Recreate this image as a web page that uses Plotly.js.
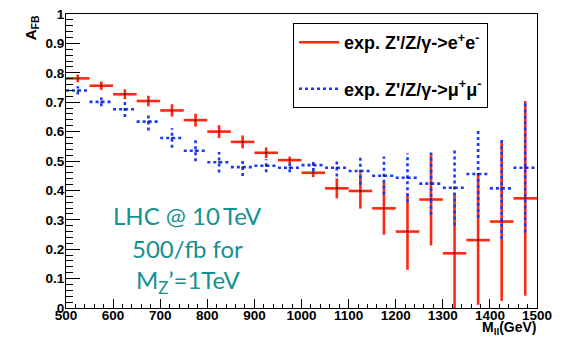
<!DOCTYPE html>
<html>
<head>
<meta charset="utf-8">
<script src="https://cdn.plot.ly/plotly-3.0.1.min.js"></script>
<style>html,body{margin:0;padding:0;background:#fff;}</style>
</head>
<body>
<div id="chart" style="width:565px;height:340px;"></div>
<script>
// Bin centres of the dilepton mass (GeV); each bin spans +/- binHalfWidth
const binCenters = [525, 575, 625, 675, 725, 775, 825, 875, 925, 975,
                    1025, 1075, 1125, 1175, 1225, 1275, 1325, 1375, 1425, 1475];
const binHalfWidth = 25;

// exp. Z'/Z/gamma -> e+e-
const eeAfb = [0.781, 0.756, 0.727, 0.704, 0.672, 0.639, 0.600, 0.565, 0.528, 0.503,
               0.460, 0.407, 0.398, 0.339, 0.260, 0.369, 0.186, 0.231, 0.294, 0.373];
const eeErr = [0.013, 0.014, 0.017, 0.018, 0.021, 0.022, 0.022, 0.022, 0.018, 0.012,
               0.015, 0.034, 0.060, 0.090, 0.130, 0.156, 0.205, 0.220, 0.270, 0.331];

// exp. Z'/Z/gamma -> mu+mu-
const mumuAfb = [0.740, 0.701, 0.676, 0.634, 0.578, 0.535, 0.496, 0.479, 0.484, 0.477,
                 0.486, 0.477, 0.466, 0.450, 0.443, 0.423, 0.409, 0.456, 0.407, 0.477];
const mumuErr = [0.014, 0.015, 0.026, 0.030, 0.033, 0.036, 0.035, 0.030, 0.022, 0.015,
                 0.020, 0.030, 0.047, 0.065, 0.083, 0.106, 0.128, 0.150, 0.172, 0.220];

const xTickVals = [500, 600, 700, 800, 900, 1000, 1100, 1200, 1300, 1400, 1500];

const eeName = "exp. Z'/Z/\u03b3->e<sup>+</sup>e<sup>-</sup>";
const mumuName = "exp. Z'/Z/\u03b3->\u03bc<sup>+</sup>\u03bc<sup>-</sup>";
const noteLines = ["LHC @ 10\u2009TeV", "500/fb for", "M<sub>Z</sub>\u2019=1TeV"];

// Build cross-shaped error bars (horizontal bin width + vertical error) as line segments
function crosses(xs, ys, errs, hw) {
  const X = [], Y = [];
  for (let i = 0; i < xs.length; i++) {
    X.push(xs[i] - hw, xs[i] + hw, null, xs[i], xs[i], null);
    Y.push(ys[i], ys[i], null, ys[i] - errs[i], ys[i] + errs[i], null);
  }
  return {x: X, y: Y};
}

const red = 'rgb(255,40,15)';
const blue = 'rgb(25,55,255)';

const eeC = crosses(binCenters, eeAfb, eeErr, binHalfWidth);
const mmC = crosses(binCenters, mumuAfb, mumuErr, binHalfWidth);

const traces = [
  {x: eeC.x, y: eeC.y, mode: 'lines', name: eeName, legendgroup: 'ee',
   line: {color: red, width: 2.6}, connectgaps: false, hoverinfo: 'skip'},
  {x: binCenters, y: eeAfb, mode: 'markers', showlegend: false,
   marker: {color: '#222', size: 2}, hoverinfo: 'skip'},
  {x: mmC.x, y: mmC.y, mode: 'lines', name: mumuName, legendgroup: 'mm',
   line: {color: blue, width: 2.6, dash: 'dot'}, connectgaps: false, hoverinfo: 'skip'},
  {x: binCenters, y: mumuAfb, mode: 'markers', showlegend: false,
   marker: {color: '#223', size: 2}, hoverinfo: 'skip'}
];

const tickFont = {family: 'Liberation Sans, Arial, sans-serif', size: 13.5, weight: 'bold', color: '#000'};
const noteFont = {family: 'Lato, "Open Sans", sans-serif', size: 24, color: 'rgb(20,145,145)'};
const noteY = [0.316, 0.2007, 0.0918];

const annotations = noteLines.map((t, i) => ({
  text: t, xref: 'paper', yref: 'paper', x: 0.259, y: noteY[i],
  xanchor: 'center', yanchor: 'middle', showarrow: false, font: noteFont
}));
annotations.push(
  {text: 'M<sub>ll</sub>(GeV)', xref: 'paper', yref: 'paper', x: 1, y: -0.1037,
   xanchor: 'right', yanchor: 'bottom', showarrow: false, borderpad: 0,
   font: {family: 'Liberation Sans, Arial, sans-serif', size: 14, weight: 'bold', color: '#000'}},
  {text: 'A<sub>FB</sub>', xref: 'paper', yref: 'paper', x: -0.074, y: 0.952,
   xanchor: 'center', yanchor: 'middle', textangle: -90, showarrow: false,
   font: {family: 'Liberation Sans, Arial, sans-serif', size: 15, weight: 'bold', color: '#000'}}
);

const layout = {
  width: 565, height: 340,
  margin: {l: 66, r: 28, t: 14, b: 32},
  paper_bgcolor: '#fff', plot_bgcolor: '#fff',
  showlegend: true,
  xaxis: {
    range: [500, 1500], tickvals: xTickVals,
    ticks: 'inside', ticklen: 9, tickwidth: 1, tickcolor: '#000',
    minor: {ticks: 'inside', dtick: 20, ticklen: 4.5, tickcolor: '#000', tickwidth: 1, showgrid: false},
    showline: true, mirror: true, linecolor: '#000', linewidth: 1,
    showgrid: false, zeroline: false, tickfont: tickFont, ticklabelstandoff: -5
  },
  yaxis: {
    range: [0, 1], tick0: 0, dtick: 0.1,
    ticks: 'inside', ticklen: 14, tickwidth: 1, tickcolor: '#000',
    minor: {ticks: 'inside', dtick: 0.02, ticklen: 7, tickcolor: '#000', tickwidth: 1, showgrid: false},
    showline: true, mirror: true, linecolor: '#000', linewidth: 1,
    showgrid: false, zeroline: false, tickfont: tickFont, ticklabelstandoff: -2
  },
  legend: {
    x: 0.482, y: 0.969, xanchor: 'left', yanchor: 'top',
    bgcolor: '#fff', bordercolor: '#000', borderwidth: 1,
    font: {family: 'Liberation Sans, Arial, sans-serif', size: 18, weight: 'bold', color: '#000'},
    traceorder: 'grouped', tracegroupgap: 20, itemwidth: 40
  },
  annotations: annotations
};

Plotly.newPlot('chart', traces, layout, {staticPlot: true, displayModeBar: false});
</script>
</body>
</html>
